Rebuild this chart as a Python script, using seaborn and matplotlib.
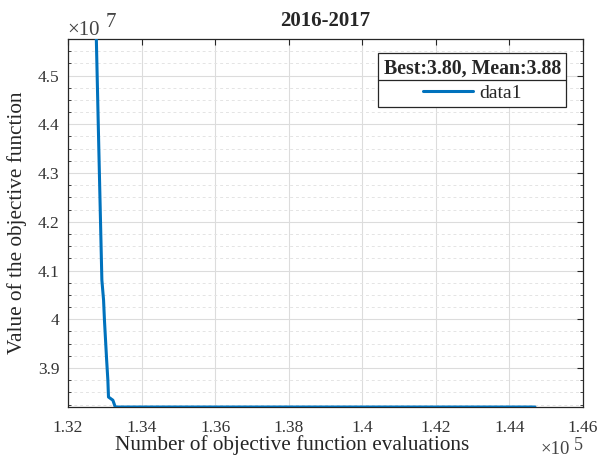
import matplotlib
matplotlib.use("Agg")
import matplotlib.pyplot as plt
import seaborn as sns
import pandas as pd
import numpy as np
from matplotlib.ticker import MultipleLocator, FuncFormatter
from matplotlib.lines import Line2D

# data (x in units of 1e5 evaluations, y in units of 1e7)
evals = [1.3275, 1.32838, 1.3292, 1.32966, 1.3299, 1.3302, 1.3305, 1.33083,
         1.3310, 1.33219, 1.33284, 1.44694]
values = [4.64, 4.347, 4.0805, 4.0395, 3.9985, 3.957, 3.916, 3.875,
          3.8405, 3.834, 3.820, 3.820]
series_name = "data1"
title = "2016-2017"
legend_title = "Best:3.80, Mean:3.88"
x_ticks = [1.32, 1.34, 1.36, 1.38, 1.40, 1.42, 1.44, 1.46]
y_ticks = [3.9, 4.0, 4.1, 4.2, 4.3, 4.4, 4.5]

df = pd.DataFrame({"x": evals, "y": values, "s": series_name})

sns.set_style("white")
plt.rcParams['font.family'] = ['Liberation Serif', 'DejaVu Serif']
plt.rcParams['mathtext.fontset'] = 'stix'

fig = plt.figure(figsize=(6.02, 4.62), dpi=100)
ax = fig.add_axes([0.113, 0.119, 0.8555, 0.7966])

sns.lineplot(data=df, x="x", y="y", hue="s", palette=["#0072BD"],
             estimator=None, sort=False, linewidth=2.2, ax=ax, zorder=3)

ax.set_xlim(1.32, 1.46)
ax.set_ylim(3.82, 4.575)
ax.set_xticks(x_ticks)
ax.set_yticks(y_ticks)
fmt = FuncFormatter(lambda v, p: f"{v:g}")
ax.xaxis.set_major_formatter(fmt)
ax.yaxis.set_major_formatter(fmt)
ax.yaxis.set_minor_locator(MultipleLocator(0.025))

ax.grid(True, which="major", color="#dcdcdc", linewidth=0.8, linestyle="-")
ax.grid(True, which="minor", axis="y", color="#e4e4e4", linewidth=0.7,
        linestyle=(0, (3, 3)))
ax.set_axisbelow(True)

for s in ax.spines.values():
    s.set_visible(True)
    s.set_color("#262626")
    s.set_linewidth(0.9)

ax.tick_params(which="both", direction="in", top=True, right=True,
               labelsize=12.5, colors="#262626")
ax.tick_params(axis="x", pad=9)
ax.tick_params(axis="y", pad=6)
ax.tick_params(which="major", length=4)
ax.tick_params(which="minor", length=2.5, left=True, right=True)
for lab in ax.get_xticklabels() + ax.get_yticklabels():
    lab.set_color("#333333")

ax.set_xlabel("Number of objective function evaluations", fontsize=15.3,
              color="#262626", labelpad=0)
ax.xaxis.set_label_coords(0.435, -0.075, transform=ax.transAxes)
ax.xaxis.label.set_va("top")
ax.set_ylabel("Value of the objective function", fontsize=15.3,
              color="#262626", labelpad=8)
ax.set_title(title, fontsize=15, fontweight="bold", pad=9)

# MATLAB-style exponent labels (pixel positions converted to figure coords)
W, H = 602, 462
def fx(px): return px / W
def fy(py): return 1 - py / H
fig.text(fx(67), fy(35), "\u00d710", fontsize=15, ha="left", va="baseline",
         color="#444444")
fig.text(fx(106), fy(27), "7", fontsize=15, ha="left", va="baseline",
         color="#444444")
fig.text(fx(541), fy(454), "\u00d710", fontsize=13.5, ha="left", va="baseline",
         color="#444444")
fig.text(fx(574), fy(450), "5", fontsize=13, ha="left", va="baseline",
         color="#444444")

handles, labels = ax.get_legend_handles_labels()
leg = ax.legend(handles, labels, title=legend_title, loc="upper right",
                bbox_to_anchor=(0.9675, 0.962), fontsize=14,
                title_fontproperties={"weight": "bold", "size": 14.3},
                frameon=True, fancybox=False, edgecolor="#262626",
                framealpha=1, handlelength=2.6, borderpad=0.28,
                labelspacing=0.3, handletextpad=0.3, borderaxespad=0)
leg.get_frame().set_linewidth(0.9)

fig.canvas.draw()
r = fig.canvas.get_renderer()
fb = leg.get_frame().get_window_extent(r)
tb = leg.get_title().get_window_extent(r)
ysep = tb.y0 - 1.5
inv = fig.transFigure.inverted()
(x0, y0) = inv.transform((fb.x0, ysep))
(x1, _) = inv.transform((fb.x1, ysep))
fig.add_artist(Line2D([x0, x1], [y0, y0], color="#262626", linewidth=0.9,
                      transform=fig.transFigure, zorder=10))

fig.savefig("out.png", dpi=100)
